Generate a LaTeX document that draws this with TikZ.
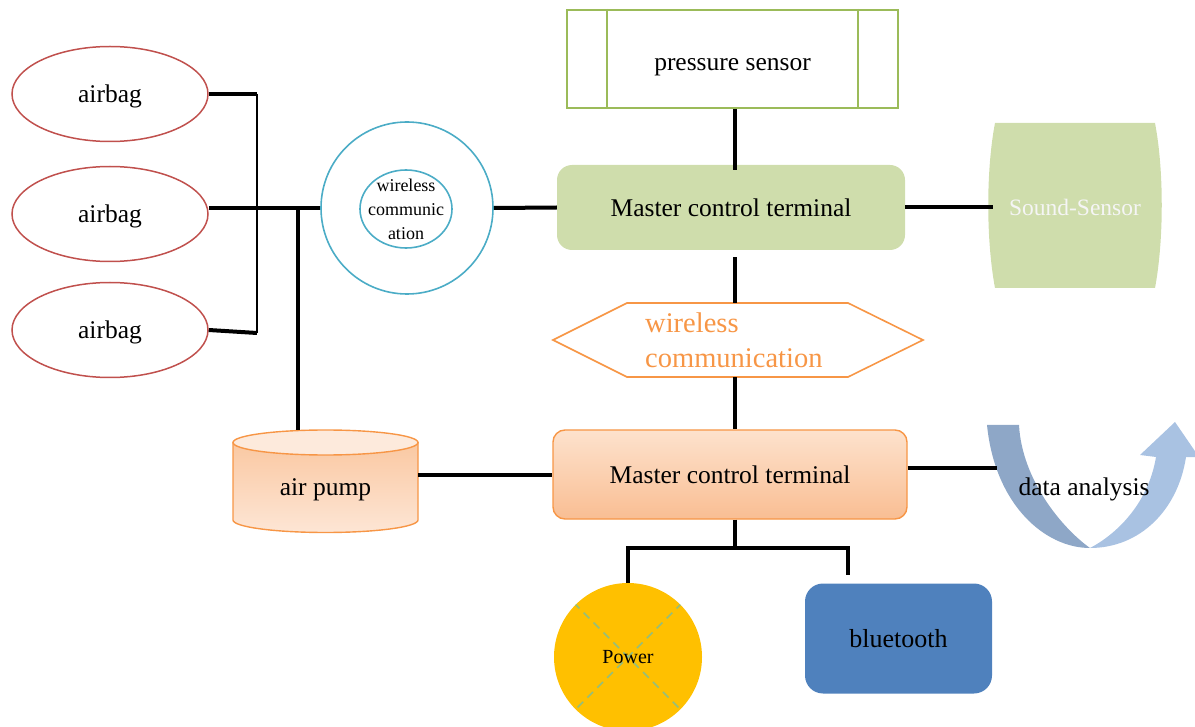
\documentclass[tikz,border=0pt]{standalone}
\usepackage{fontspec}
\setmainfont{Liberation Serif}
\usetikzlibrary{shapes.geometric,calc}
\definecolor{bagred}{HTML}{C0504D}
\definecolor{tealc}{HTML}{4BACC6}
\definecolor{grn}{HTML}{9BBB59}
\definecolor{lgrn}{HTML}{CFDDAC}
\definecolor{org}{HTML}{F79646}
\definecolor{goldc}{HTML}{FFC000}
\definecolor{blu}{HTML}{4F81BD}
\definecolor{arrA}{HTML}{8EA7C7}
\definecolor{arrB}{HTML}{A9C2E2}
\definecolor{dashg}{HTML}{94BE7C}
\definecolor{pumpA}{HTML}{FAC8A2}
\definecolor{pumpB}{HTML}{FDE6D5}
\definecolor{pumpTop}{HTML}{FDEADC}
\definecolor{mcbA}{HTML}{FDE2CD}
\definecolor{mcbB}{HTML}{F9BE93}
\tikzset{
  conn/.style={line width=4pt},
  thinconn/.style={line width=1.6pt},
  txt/.style={font=\fontsize{25.5}{30}\selectfont},
  bag/.style={ellipse, draw=bagred, line width=1.5pt, minimum width=196pt, minimum height=95pt, inner sep=0pt, text depth=0pt, txt},
  mctbox/.style={rounded corners=15pt, fill=lgrn, minimum width=348pt, minimum height=85pt, inner sep=0pt, txt},
  mcbbox/.style={rounded corners=12pt, top color=mcbA, bottom color=mcbB, draw=org, line width=1.4pt, minimum width=354pt, minimum height=89pt, inner sep=0pt, txt},
}
\begin{document}
\begin{tikzpicture}[x=1pt,y=-1pt]
\useasboundingbox (0,0) rectangle (1195,727);

% airbags
\node[bag] (bag1) at (110,94) {airbag};
\node[bag] (bag2) at (110,214) {airbag};
\node[bag] (bag3) at (110,330) {airbag};

% wireless circle
\node[circle, draw=tealc, line width=1.6pt, minimum size=172pt, inner sep=0pt] (wco) at (407,208) {};
\node[ellipse, draw=tealc, line width=1.6pt, minimum width=92pt, minimum height=78pt, inner sep=0pt] (wci) at (406,209) {};
\node[align=center, font=\fontsize{18}{24}\selectfont, inner sep=0pt] (wct) at (406,209) {wireless\\communic\\ation};

% pressure sensor
\node[draw=grn, line width=2pt, minimum width=331pt, minimum height=98pt, inner sep=0pt] (ps) at (732.5,59) {};
\draw[grn, line width=2pt] ([xshift=41pt]ps.north west) -- ([xshift=41pt]ps.south west);
\draw[grn, line width=2pt] ([xshift=-41pt]ps.north east) -- ([xshift=-41pt]ps.south east);
\node[inner sep=0pt, anchor=base, txt] (pst) at (732.5,71) {pressure sensor};

% master control terminal (top)
\node[mctbox] (mct) at (731,207.5) {Master control terminal};

% sound sensor
\path[fill=lgrn] (995,123) .. controls (986,170) and (986,240) .. (995,288) -- (1155,288) .. controls (1164,240) and (1164,170) .. (1155,123) -- cycle;
\node[minimum width=164pt, minimum height=165pt, inner sep=0pt, text=white!96!black, font=\fontsize{23.5}{28}\selectfont] (ss) at (1075,207) {Sound-Sensor};

% hexagon
\draw[org, line width=1.6pt] (553,340) -- (627,303) -- (848,303) -- (923,340) -- (848,377) -- (627,377) -- cycle;
\node[minimum width=370pt, minimum height=74pt, inner sep=0pt] (hex) at (735,340) {};
\node[anchor=base west, inner sep=0pt, text=org, font=\fontsize{28.5}{34}\selectfont] (hexa) at (645,333) {wireless};
\node[anchor=base west, inner sep=0pt, text=org, font=\fontsize{28.5}{34}\selectfont] (hexb) at (645,368) {communication};

% air pump
\path[top color=pumpA, bottom color=pumpB, draw=org, line width=1.4pt] (233,442.5) -- (233,520) .. controls (233,526.9) and (274.4,532.5) .. (325.5,532.5) .. controls (376.6,532.5) and (418,526.9) .. (418,520) -- (418,442.5) -- cycle;
\draw[org, line width=1.4pt, fill=pumpTop] (325.5,442.5) ellipse [x radius=92.5, y radius=12.5];
\node[minimum width=185pt, minimum height=120pt, inner sep=0pt, txt] (pump) at (325.5,490) {air pump};

% master control terminal (bottom)
\node[mcbbox] (mcb) at (730,474.5) {Master control terminal};

% data analysis arrow
\path[fill=arrA] (987,425) .. controls (995,505) and (1045,548) .. (1090,548) .. controls (1062,528) and (1022,480) .. (1019,425) -- cycle;
\path[fill=arrB] (1090,548) .. controls (1140,548) and (1178,510) .. (1186,457) -- (1199,457) -- (1175,422) -- (1140,455) -- (1156,457) .. controls (1148,505) and (1115,535) .. (1090,548) -- cycle;
\node[inner sep=0pt, txt] (da) at (1084,489) {data analysis};

% power and bluetooth
\node[circle, fill=goldc, minimum size=148pt, inner sep=0pt, font=\fontsize{20}{24}\selectfont,
  path picture={\draw[dashg, line width=1.6pt, dash pattern=on 8pt off 6pt] (path picture bounding box.north west) -- (path picture bounding box.south east) (path picture bounding box.north east) -- (path picture bounding box.south west);}] (pw) at (628,657) {Power};
\node[rounded corners=18pt, fill=blu, minimum width=187pt, minimum height=110pt, inner sep=0pt, font=\fontsize{26}{30}\selectfont] (bt) at (898.5,638.5) {bluetooth};

% connectors
\coordinate (j1) at (257,94);
\coordinate (j3) at (257,333);
\coordinate (j2) at (298,208);
\coordinate (daend) at (997,468);
\coordinate (tee) at (735,548);
\coordinate (btc) at (848,575);

\draw[conn] (bag2.east |- wco.west) -- (wco.west);
\draw[conn] (bag1.east) -- (j1);
\draw[thinconn] (j1) -- (j3);
\draw[conn] (bag3.east) -- (j3);
\draw[conn] (j2) -- (j2 |- pump.north);
\draw[conn] (mct.west) -- (wco.east);
\draw[conn] (mct.east) -- (mct.east -| ss.west);
\draw[conn, shorten >=-5pt] (hex.north |- ps.south) -- (hex.north |- mct.north);
\draw[conn, shorten <=7pt] (hex.north |- mct.south) -- (hex.north);
\draw[conn] (hex.south) -- (hex.south |- mcb.north);
\draw[conn] (pump.east |- mcb.west) -- (mcb.west);
\draw[conn] (mcb.east |- daend) -- (daend);
\draw[conn] (mcb.south -| tee) -- (tee);
\draw[conn] (pw.north) -- (pw.north |- tee) -- (tee -| btc) -- (btc);
\end{tikzpicture}
\end{document}
